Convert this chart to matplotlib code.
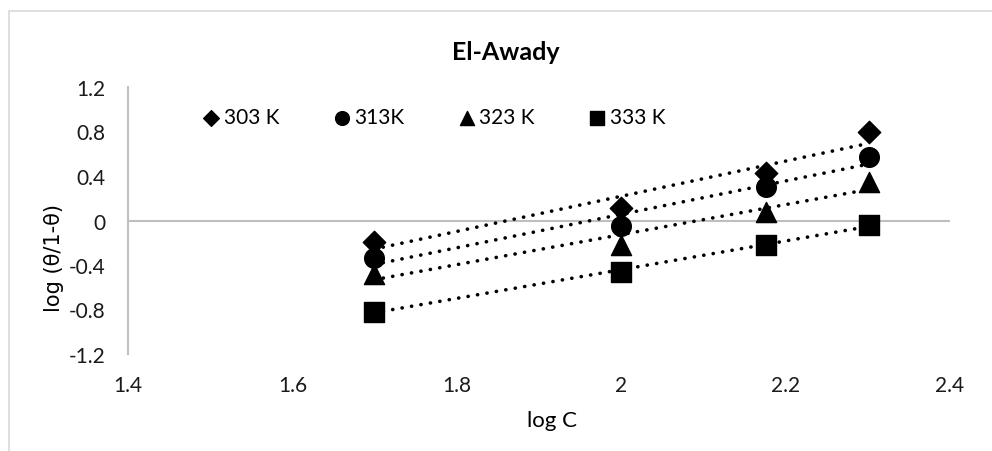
import numpy as np
from matplotlib import pyplot as plt
from matplotlib.patches import Rectangle

# log C for the four inhibitor concentrations
log_c = [1.699, 2.0, 2.176, 2.301]

# log(theta/1-theta) at each temperature
temps = ['303 K', '313K', '323 K', '333 K']
y303 = [-0.19, 0.11, 0.43, 0.80]
y313 = [-0.34, -0.05, 0.30, 0.575]
y323 = [-0.48, -0.22, 0.08, 0.35]
y333 = [-0.82, -0.46, -0.22, -0.04]

x_ticks = [1.4, 1.6, 1.8, 2.0, 2.2, 2.4]
x_tick_labels = ['1.4', '1.6', '1.8', '2', '2.2', '2.4']
y_ticks = [-1.2, -0.8, -0.4, 0, 0.4, 0.8, 1.2]
y_tick_labels = ['-1.2', '-0.8', '-0.4', '0', '0.4', '0.8', '1.2']

plt.rcParams['font.family'] = ['Lato', 'DejaVu Sans']

fig = plt.figure(figsize=(9.92, 4.52), dpi=100)
ax = fig.add_axes([128 / 992, 1 - 355 / 452, 822 / 992, 267 / 452])

# light chart border
fig.patches.append(Rectangle((9 / 992, -0.01), 1.2, 1 - 12 / 452 + 0.01,
                             transform=fig.transFigure, fill=False,
                             edgecolor='#d9d9d9', linewidth=1.2))

markers = ['D', 'o', '^', 's']
sizes = [130, 200, 210, 190]
handles = []
xs = np.array(log_c)
for label, ys, m, s in zip(temps, [y303, y313, y323, y333], markers, sizes):
    h = ax.scatter(log_c, ys, marker=m, s=s, color='black', zorder=3, label=label)
    handles.append(h)
    # linear trendline over the data range
    k, b = np.polyfit(xs, ys, 1)
    ax.plot(xs, k * xs + b, color='black', linestyle=(0, (0.05, 2.6)),
            dash_capstyle='round', linewidth=2.6, zorder=2)

ax.set_xlim(1.4, 2.4)
ax.set_ylim(-1.2, 1.2)
ax.set_xticks(x_ticks)
ax.set_xticklabels(x_tick_labels)
ax.set_yticks(y_ticks)
ax.set_yticklabels(y_tick_labels)
ax.tick_params(length=0, labelsize=15, colors='#1a1a1a')
ax.tick_params(axis='x', pad=15)
ax.tick_params(axis='y', pad=16)

for side in ['top', 'right', 'bottom']:
    ax.spines[side].set_visible(False)
ax.spines['left'].set_color('#bfbfbf')
ax.spines['left'].set_linewidth(1.5)
ax.axhline(0, color='#bfbfbf', linewidth=1.5, zorder=1)

fig.text(506 / 992, 1 - 52 / 452, 'El-Awady', ha='center', va='center',
         fontsize=18, fontweight='bold')
fig.text(552 / 992, 1 - 421 / 452, 'log C', ha='center', va='center',
         fontsize=16)
fig.text(54 / 992, 1 - 258 / 452, 'log (θ/1-θ)', ha='center', va='center',
         rotation=90, fontsize=15, family=['DejaVu Sans'])

ax.legend(handles=handles, loc='center left', bbox_to_anchor=(0.09, 1 - 30 / 267),
          ncol=4, frameon=False, fontsize=15, handletextpad=0.15,
          columnspacing=2.55, markerscale=0.7, handlelength=0.9,
          borderaxespad=0, borderpad=0)

plt.savefig('out.png', dpi=100)
